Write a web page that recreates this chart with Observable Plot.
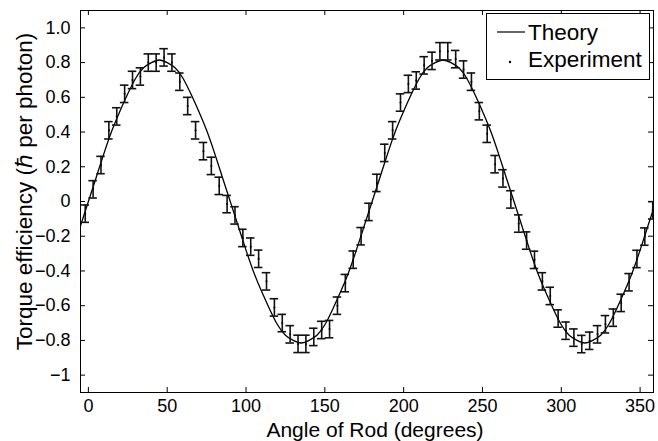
<!DOCTYPE html>
<html>
<head>
<meta charset="utf-8">
<script src="https://cdn.jsdelivr.net/npm/d3@7"></script>
<script src="https://cdn.jsdelivr.net/npm/@observablehq/plot@0.6"></script>
<style>
  body { margin: 0; background: #fff; }
  #wrap { position: relative; width: 658px; height: 441px; font-family: "Liberation Sans", Arial, sans-serif; }
  #legend { position: absolute; left: 486px; top: 13px; }
</style>
</head>
<body>
<div id="wrap"></div>
<script>
// ---- data ----
const xTicks = [0, 50, 100, 150, 200, 250, 300, 350];
const xTickLabels = ["0", "50", "100", "150", "200", "250", "300", "350"];
const yTicks = [-1, -0.8, -0.6, -0.4, -0.2, 0, 0.2, 0.4, 0.6, 0.8, 1.0];
const yTickLabels = ["−1", "−0.8", "−0.6", "−0.4", "−0.2", "0", "0.2", "0.4", "0.6", "0.8", "1.0"];

const xLabel = "Angle of Rod (degrees)";
const yLabel = "Torque efficiency (ℏ per photon)";
const seriesNames = ["Theory", "Experiment"];

const theoryAngle = [-5, 0, 5, 10, 15, 20, 25, 30, 35, 40, 45, 50, 55, 60, 65, 70, 75, 80, 85, 90,
  95, 100, 105, 110, 115, 120, 125, 130, 135, 140, 145, 150, 155, 160, 165, 170, 175, 180,
  185, 190, 195, 200, 205, 210, 215, 220, 225, 230, 235, 240, 245, 250, 255, 260, 265, 270,
  275, 280, 285, 290, 295, 300, 305, 310, 315, 320, 325, 330, 335, 340, 345, 350, 355, 360];
const theoryValue = [-0.14, 0, 0.14, 0.28, 0.41, 0.52, 0.62, 0.71, 0.77, 0.80, 0.815, 0.80, 0.77, 0.71, 0.62, 0.52, 0.41, 0.28, 0.14, 0,
  -0.14, -0.28, -0.41, -0.52, -0.62, -0.71, -0.77, -0.80, -0.815, -0.80, -0.77, -0.71, -0.62, -0.52, -0.41, -0.28, -0.14, 0,
  0.14, 0.28, 0.41, 0.52, 0.62, 0.71, 0.77, 0.80, 0.815, 0.80, 0.77, 0.71, 0.62, 0.52, 0.41, 0.28, 0.14, 0,
  -0.14, -0.28, -0.41, -0.52, -0.62, -0.71, -0.77, -0.80, -0.815, -0.80, -0.77, -0.71, -0.62, -0.52, -0.41, -0.28, -0.14, 0];

const expAngle = [-2, 3, 8, 13, 18, 23, 28, 33, 38, 43, 48, 53, 58, 63, 68, 73, 78, 83, 88, 93,
  98, 103, 108, 113, 118, 123, 128, 133, 138, 143, 148, 153, 158, 163, 168, 173, 178, 183,
  188, 193, 198, 203, 208, 213, 218, 223, 228, 233, 238, 243, 248, 253, 258, 263, 268, 273,
  278, 283, 288, 293, 298, 303, 308, 313, 318, 323, 328, 333, 338, 343, 348, 353, 358];
const expValue = [-0.07, 0.07, 0.21, 0.41, 0.49, 0.62, 0.70, 0.72, 0.80, 0.80, 0.83, 0.80, 0.69, 0.55, 0.41, 0.29, 0.205, 0.09, -0.015, -0.08,
  -0.21, -0.26, -0.33, -0.46, -0.61, -0.70, -0.765, -0.82, -0.82, -0.78, -0.74, -0.735, -0.60, -0.47, -0.335, -0.20, -0.06, 0.107,
  0.28, 0.41, 0.57, 0.677, 0.697, 0.784, 0.81, 0.865, 0.865, 0.82, 0.76, 0.69, 0.52, 0.39, 0.215, 0.133, 0.012, -0.127,
  -0.225, -0.336, -0.46, -0.544, -0.674, -0.744, -0.784, -0.821, -0.802, -0.765, -0.707, -0.669, -0.584, -0.465, -0.331, -0.202, -0.051];
const expError = [0.05, 0.05, 0.05, 0.05, 0.05, 0.05, 0.05, 0.05, 0.05, 0.05, 0.05, 0.05, 0.05, 0.05, 0.05, 0.05, 0.05, 0.05, 0.05, 0.05,
  0.05, 0.05, 0.05, 0.05, 0.05, 0.05, 0.05, 0.05, 0.05, 0.05, 0.05, 0.05, 0.05, 0.05, 0.05, 0.05, 0.05, 0.05,
  0.05, 0.05, 0.05, 0.05, 0.05, 0.05, 0.05, 0.05, 0.05, 0.05, 0.05, 0.05, 0.05, 0.05, 0.05, 0.05, 0.05, 0.05,
  0.05, 0.05, 0.05, 0.05, 0.05, 0.05, 0.05, 0.05, 0.05, 0.05, 0.05, 0.05, 0.05, 0.05, 0.05, 0.05, 0.05];

// ---- tables ----
const theory = theoryAngle.map((a, i) => ({a, v: theoryValue[i]}));
const exp = expAngle.map((a, i) => ({a, v: expValue[i], e: expError[i]}));

const W = 658, H = 441, mL = 80, mR = 5, mT = 10, mB = 49;
const innerW = W - mL - mR, innerH = H - mT - mB;
const tick = 5, capHalf = 2.7;

const plot = Plot.plot({
  width: W, height: H,
  marginLeft: mL, marginRight: mR, marginTop: mT, marginBottom: mB,
  style: {fontFamily: "'Liberation Sans', Arial, sans-serif", fontSize: "18px", color: "#000", background: "#fff"},
  x: {domain: [-5, 358.5]},
  y: {domain: [-1.1, 1.1]},
  marks: [
    Plot.frame({stroke: "#000", strokeWidth: 1}),
    Plot.tickX(xTicks, {x: d => d, insetTop: innerH - tick, stroke: "#000"}),
    Plot.tickX(xTicks, {x: d => d, insetBottom: innerH - tick, stroke: "#000"}),
    Plot.tickY(yTicks, {y: d => d, insetRight: innerW - tick, stroke: "#000"}),
    Plot.tickY(yTicks, {y: d => d, insetLeft: innerW - tick, stroke: "#000"}),
    Plot.axisX(xTicks, {tickSize: 0, tickPadding: 7, label: null, tickFormat: d => xTickLabels[xTicks.indexOf(d)]}),
    Plot.axisY(yTicks, {tickSize: 0, tickPadding: 10, label: null, tickFormat: d => yTickLabels[yTicks.indexOf(d)]}),
    Plot.line(theory, {x: "a", y: "v", curve: "natural", stroke: "#000", strokeWidth: 1.3, clip: true}),
    Plot.ruleX(exp, {x: "a", y1: d => d.v - d.e, y2: d => d.v + d.e, stroke: "#111", strokeWidth: 1.6}),
    Plot.ruleY(exp, {y: d => d.v + d.e, x1: d => d.a - capHalf, x2: d => d.a + capHalf, stroke: "#111", strokeWidth: 1.6, clip: true}),
    Plot.ruleY(exp, {y: d => d.v - d.e, x1: d => d.a - capHalf, x2: d => d.a + capHalf, stroke: "#111", strokeWidth: 1.6, clip: true}),
    Plot.dot(exp, {x: "a", y: "v", r: 1, fill: "#000", stroke: null}),
    Plot.text([xLabel], {text: d => d, frameAnchor: "bottom", textAnchor: "middle", lineAnchor: "middle", dx: 8, dy: 37.5, fontSize: 21, fill: "#000"}),
    Plot.text([yLabel], {text: d => d, frameAnchor: "left", textAnchor: "middle", lineAnchor: "middle", rotate: -90, dx: -56, dy: -10, fontSize: 22.5, fill: "#000"})
  ]
});

const wrap = document.getElementById("wrap");
wrap.appendChild(plot);

// legend
const ns = "http://www.w3.org/2000/svg";
const leg = document.createElementNS(ns, "svg");
leg.setAttribute("id", "legend");
leg.setAttribute("width", 165);
leg.setAttribute("height", 68);
leg.innerHTML = `
  <rect x="0.5" y="0.5" width="163" height="66" fill="#fff" stroke="#000" stroke-width="1"/>
  <line x1="11" x2="39" y1="19" y2="19" stroke="#000" stroke-width="1.2"/>
  <text x="42" y="27" font-size="22.5" font-family="'Liberation Sans', Arial, sans-serif" fill="#000">${seriesNames[0]}</text>
  <circle cx="24" cy="49" r="1.2" fill="#000"/>
  <text x="42" y="54" font-size="22.5" font-family="'Liberation Sans', Arial, sans-serif" fill="#000">${seriesNames[1]}</text>`;
wrap.appendChild(leg);
</script>
</body>
</html>
